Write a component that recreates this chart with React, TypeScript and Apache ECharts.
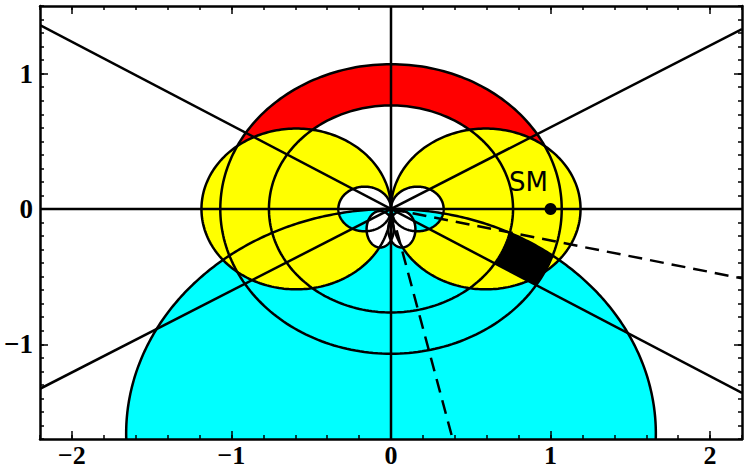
import { useEffect, useRef } from "react";
import * as echarts from "echarts";

// ---------- axis ranges and ticks ----------
const X_RANGE = [-2.2, 2.2];
const Y_RANGE = [-1.7, 1.5];
const xMajorTicks = [-2, -1, 0, 1, 2];
const xMinorTicks = [-2.2, -2, -1.8, -1.6, -1.4, -1.2, -1, -0.8, -0.6, -0.4, -0.2, 0, 0.2, 0.4, 0.6, 0.8, 1, 1.2, 1.4, 1.6, 1.8, 2, 2.2];
const yMajorTicks = [-1, 0, 1];
const yMinorTicks = [-1.7, -1.6, -1.5, -1.4, -1.3, -1.2, -1.1, -1, -0.9, -0.8, -0.7, -0.6, -0.5, -0.4, -0.3, -0.2, -0.1, 0, 0.1, 0.2, 0.3, 0.4, 0.5, 0.6, 0.7, 0.8, 0.9, 1, 1.1, 1.2, 1.3, 1.4, 1.5];

// ---------- geometry ----------
const ringRadii = [0.765, 1.07]; // circles centred on the origin (red annulus)
const bigLobeCentres = [-0.594, 0.594]; // yellow lobes (circles on the x axis)
const bigLobeRadius = 0.594;
const smallLobeCentres = [-0.165, 0.165]; // small holes
const smallLobeRadius = 0.165;
const lowerLobeCentres = [[-0.068, -0.15], [0.068, -0.15]];
const lowerLobeSemiAxes = [0.085, 0.135];
const cyanCentre = [0, -1.66];
const cyanRadius = 1.66;
const raySlopes = [-0.618, 0.604]; // solid lines through the origin
const dashedSlopes = [-0.233, -4.4]; // dashed lines from the origin
const smPoint = [1, 0];
const smLabelPoint = [0.862, 0.2];

type Pt = [number, number];

function ellipse(cx: number, cy: number, a: number, b: number, n = 240): Pt[] {
  const pts: Pt[] = [];
  for (let i = 0; i <= n; i++) {
    const t = (2 * Math.PI * i) / n;
    pts.push([cx + a * Math.cos(t), cy + b * Math.sin(t)]);
  }
  return pts;
}
const circle = (cx: number, cy: number, r: number, n = 240) => ellipse(cx, cy, r, r, n);

function cyanY(x: number) {
  return cyanCentre[1] + Math.sqrt(Math.max(0, cyanRadius * cyanRadius - x * x));
}

// part of a small hole that lies inside the cyan disc
function smallLobeCyan(cx: number): Pt[] {
  const pts: Pt[] = [];
  const n = 80;
  for (let i = 0; i <= n; i++) {
    const t = Math.PI + (Math.PI * i) / n;
    pts.push([cx + smallLobeRadius * Math.cos(t), smallLobeRadius * Math.sin(t)]);
  }
  for (let i = n; i >= 0; i--) {
    const x = cx - smallLobeRadius + (2 * smallLobeRadius * i) / n;
    pts.push([x, cyanY(x)]);
  }
  return pts;
}

function cyanTheta(r: number) {
  return -Math.asin(r / (2 * cyanRadius));
}

function boxPolygon(): Pt[] {
  const [r0, r1] = ringRadii;
  const thA = Math.atan(raySlopes[0]);
  const pts: Pt[] = [];
  const n = 40;
  for (let i = 0; i <= n; i++) {
    const r = r0 + ((r1 - r0) * i) / n;
    const th = cyanTheta(r);
    pts.push([r * Math.cos(th), r * Math.sin(th)]);
  }
  const t1 = cyanTheta(r1);
  for (let i = 0; i <= n; i++) {
    const th = t1 + ((thA - t1) * i) / n;
    pts.push([r1 * Math.cos(th), r1 * Math.sin(th)]);
  }
  const t0 = cyanTheta(r0);
  for (let i = 0; i <= n; i++) {
    const th = thA + ((t0 - thA) * i) / n;
    pts.push([r0 * Math.cos(th), r0 * Math.sin(th)]);
  }
  return pts;
}

type Shape = { pts: Pt[]; fill?: string; stroke?: string; lw?: number; dash?: number[]; open?: boolean };

function buildShapes(): Shape[] {
  const s: Shape[] = [];
  // fills
  s.push({ pts: circle(0, 0, ringRadii[1]), fill: "#ff0000" });
  s.push({ pts: circle(0, 0, ringRadii[0]), fill: "#ffffff" });
  s.push({ pts: circle(cyanCentre[0], cyanCentre[1], cyanRadius), fill: "#00ffff" });
  bigLobeCentres.forEach((c) => s.push({ pts: circle(c, 0, bigLobeRadius), fill: "#ffff00" }));
  smallLobeCentres.forEach((c) => s.push({ pts: circle(c, 0, smallLobeRadius), fill: "#ffffff" }));
  smallLobeCentres.forEach((c) => s.push({ pts: smallLobeCyan(c), fill: "#00ffff" }));
  lowerLobeCentres.forEach((c) => s.push({ pts: ellipse(c[0], c[1], lowerLobeSemiAxes[0], lowerLobeSemiAxes[1]), fill: "#ffffff" }));
  s.push({ pts: boxPolygon(), fill: "#000000" });
  // outlines
  const K = "#000000";
  const LW = 2.5;
  ringRadii.forEach((r) => s.push({ pts: circle(0, 0, r), stroke: K, lw: LW }));
  bigLobeCentres.forEach((c) => s.push({ pts: circle(c, 0, bigLobeRadius), stroke: K, lw: LW }));
  smallLobeCentres.forEach((c) => s.push({ pts: circle(c, 0, smallLobeRadius), stroke: K, lw: LW }));
  lowerLobeCentres.forEach((c) => s.push({ pts: ellipse(c[0], c[1], lowerLobeSemiAxes[0], lowerLobeSemiAxes[1]), stroke: K, lw: LW }));
  s.push({ pts: circle(cyanCentre[0], cyanCentre[1], cyanRadius, 600), stroke: K, lw: LW });
  raySlopes.forEach((m) => s.push({ pts: [[X_RANGE[0], m * X_RANGE[0]], [X_RANGE[1], m * X_RANGE[1]]], stroke: K, lw: LW, open: true }));
  s.push({ pts: [[X_RANGE[0], 0], [X_RANGE[1], 0]], stroke: K, lw: LW, open: true });
  s.push({ pts: [[0, Y_RANGE[0]], [0, Y_RANGE[1]]], stroke: K, lw: LW, open: true });
  // dashed
  s.push({ pts: [[0, 0], [X_RANGE[1], dashedSlopes[0] * X_RANGE[1]]], stroke: K, lw: LW, dash: [14, 8], open: true });
  s.push({ pts: [[0, 0], [Y_RANGE[0] / dashedSlopes[1], Y_RANGE[0]]], stroke: K, lw: LW, dash: [14, 8], open: true });
  return s;
}

const LABEL_FONT = "'Liberation Serif', 'Times New Roman', serif";
const fmt = (v: number) => String(v).replace("-", "\u2212");

function xAxisDef(position: "bottom" | "top", ticks: number[], len: number, withLine: boolean, withLabels: boolean) {
  return {
    type: "value",
    min: X_RANGE[0],
    max: X_RANGE[1],
    position,
    z: 10,
    splitLine: { show: false },
    axisLine: { show: withLine, onZero: false, lineStyle: { color: "#000", width: 2.5 } },
    axisTick: { show: true, inside: true, length: len, customValues: ticks, lineStyle: { color: "#000", width: 1.5 } },
    axisLabel: withLabels
      ? { show: true, customValues: ticks, formatter: fmt, color: "#000", fontFamily: LABEL_FONT, fontWeight: "bold", fontSize: 26, margin: 3, lineHeight: 26 }
      : { show: false },
  };
}
function yAxisDef(position: "left" | "right", ticks: number[], len: number, withLine: boolean, withLabels: boolean) {
  return {
    type: "value",
    min: Y_RANGE[0],
    max: Y_RANGE[1],
    position,
    z: 10,
    splitLine: { show: false },
    axisLine: { show: withLine, onZero: false, lineStyle: { color: "#000", width: 2.5 } },
    axisTick: { show: true, inside: true, length: len, customValues: ticks, lineStyle: { color: "#000", width: 1.5 } },
    axisLabel: withLabels
      ? { show: true, customValues: ticks, formatter: fmt, color: "#000", fontFamily: LABEL_FONT, fontWeight: "bold", fontSize: 27, margin: 7 }
      : { show: false },
  };
}

export default function App() {
  const ref = useRef<HTMLDivElement>(null);
  useEffect(() => {
    if (!ref.current) return;
    const chart = echarts.init(ref.current, undefined, { renderer: "svg" });
    const shapes = buildShapes();
    chart.setOption({
      animation: false,
      backgroundColor: "#ffffff",
      grid: { left: 40, top: 6, width: 702, height: 433, containLabel: false, outerBoundsMode: "none" },
      xAxis: [
        xAxisDef("bottom", xMajorTicks, 8, true, true),
        xAxisDef("bottom", xMinorTicks, 4, false, false),
        xAxisDef("top", xMajorTicks, 8, true, false),
        xAxisDef("top", xMinorTicks, 4, false, false),
      ],
      yAxis: [
        yAxisDef("left", yMajorTicks, 8, true, true),
        yAxisDef("left", yMinorTicks, 4, false, false),
        yAxisDef("right", yMajorTicks, 8, true, false),
        yAxisDef("right", yMinorTicks, 4, false, false),
      ],
      series: [
        {
          type: "custom",
          xAxisIndex: 0,
          yAxisIndex: 0,
          clip: true,
          silent: true,
          data: shapes.map(() => [0, 0]),
          renderItem: (params: any, api: any) => {
            const sh = shapes[params.dataIndex];
            const pts = sh.pts.map((p) => api.coord(p));
            return {
              type: sh.open ? "polyline" : "polygon",
              shape: { points: pts },
              silent: true,
              style: {
                fill: sh.fill ?? "none",
                stroke: sh.stroke ?? "none",
                lineWidth: sh.lw ?? 0,
                lineDash: sh.dash,
              },
            };
          },
        },
        {
          type: "scatter",
          xAxisIndex: 0,
          yAxisIndex: 0,
          silent: true,
          symbolSize: 12,
          itemStyle: { color: "#000", opacity: 1 },
          data: [smPoint],
          z: 5,
        },
        {
          type: "scatter",
          xAxisIndex: 0,
          yAxisIndex: 0,
          silent: true,
          symbol: "circle",
          symbolSize: 1,
          itemStyle: { color: "rgba(0,0,0,0)", opacity: 1 },
          data: [smLabelPoint],
          label: {
            show: true,
            position: "inside",
            formatter: "SM",
            color: "#000",
            opacity: 1,
            fontFamily: "'DejaVu Sans', sans-serif",
            fontSize: 26,
          },
          z: 6,
        },
      ],
    });
    return () => chart.dispose();
  }, []);
  return <div ref={ref} style={{ position: "absolute", left: 0, top: 0, width: 747, height: 468 }} />;
}
